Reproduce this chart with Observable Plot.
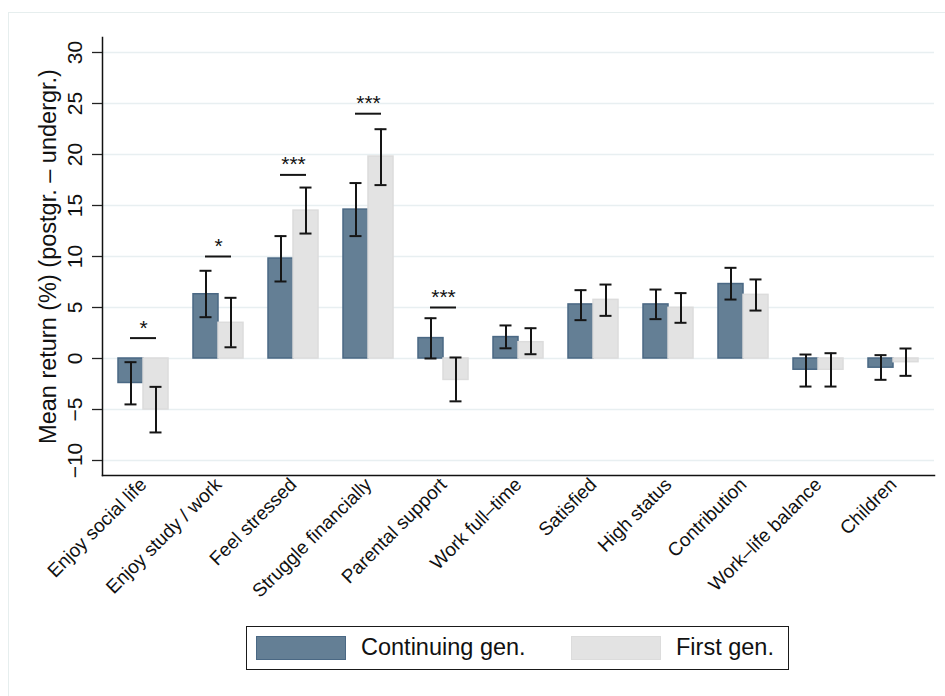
<!DOCTYPE html>
<html>
<head>
<meta charset="utf-8">
<script src="https://cdn.jsdelivr.net/npm/d3@7"></script>
<script src="https://cdn.jsdelivr.net/npm/@observablehq/plot@0.6"></script>
<style>
  html, body { margin: 0; padding: 0; background: #fff; }
  body { width: 945px; height: 696px; position: relative; overflow: hidden; font-family: "Liberation Sans", Arial, Helvetica, sans-serif; }
  #outer { position: absolute; left: 8px; top: 12px; width: 960px; height: 720px; border-left: 1.5px solid #e6eeee; border-top: 1.5px solid #e6eeee; box-sizing: border-box; }
  #chart { position: absolute; left: 0; top: 0; }
  #legend { position: absolute; left: 246px; top: 626px; width: 543px; height: 44px; border: 1.5px solid #1a1a1a; box-sizing: border-box; background: #fff; }
  .sw { position: absolute; top: 9px; width: 90px; height: 24px; box-sizing: border-box; }
  .lt { position: absolute; top: 0; line-height: 41px; font-size: 23.5px; color: #111; white-space: nowrap; }
</style>
</head>
<body>
<div id="outer"></div>
<div id="chart"></div>
<div id="legend"></div>
<script>
// ---- data ----
const categories = ["Enjoy social life", "Enjoy study / work", "Feel stressed", "Struggle financially",
  "Parental support", "Work full–time", "Satisfied", "High status", "Contribution",
  "Work–life balance", "Children"];
const seriesNames = ["Continuing gen.", "First gen."];
const continuing   = [-2.4, 6.3, 9.8, 14.6, 2.0, 2.1, 5.3, 5.3, 7.3, -1.1, -0.9];
const continuingLo = [-4.5, 4.05, 7.55, 12.0, 0.0, 1.0, 3.76, 3.86, 5.78, -2.75, -2.09];
const continuingHi = [-0.36, 8.6, 12.0, 17.2, 3.95, 3.24, 6.7, 6.76, 8.89, 0.39, 0.33];
const firstGen     = [-5.0, 3.5, 14.5, 19.8, -2.1, 1.6, 5.75, 4.97, 6.24, -1.1, -0.36];
const firstGenLo   = [-7.25, 1.1, 12.25, 17.0, -4.2, 0.42, 4.18, 3.5, 4.7, -2.75, -1.7];
const firstGenHi   = [-2.78, 5.95, 16.76, 22.48, 0.1, 2.97, 7.25, 6.41, 7.75, 0.52, 0.98];
const sigCategories = ["Enjoy social life", "Enjoy study / work", "Feel stressed", "Struggle financially", "Parental support"];
const sigLevel      = [2, 10, 18, 24, 5];
const sigStars      = ["*", "*", "***", "***", "***"];
const yTicks = [-10, -5, 0, 5, 10, 15, 20, 25, 30];
const yTitle = "Mean return (%) (postgr. – undergr.)";

const darkFill = "#647f95", darkStroke = "#4a6884";
const lightFill = "#e3e3e3", lightStroke = "#dcdcdc";

const contRows = categories.map((c, i) => ({cat: c, v: continuing[i], lo: continuingLo[i], hi: continuingHi[i]}));
const firstRows = categories.map((c, i) => ({cat: c, v: firstGen[i], lo: firstGenLo[i], hi: firstGenHi[i]}));
const sigRows = sigCategories.map((c, i) => ({cat: c, y: sigLevel[i], s: sigStars[i]}));

const W = 945, H = 615;
const errStroke = "#151515";

const chart = Plot.plot({
  width: W,
  height: H,
  marginLeft: 102,
  marginRight: 11,
  marginTop: 37,
  marginBottom: H - 475,
  style: {fontFamily: "'Liberation Sans', Arial, Helvetica, sans-serif", color: "#111", background: "transparent"},
  x: {domain: categories, type: "band", paddingInner: 0.335, paddingOuter: 0.2},
  y: {domain: [-11.47, 31.47]},
  marks: [
    Plot.gridY(yTicks, {stroke: "#e8eff1", strokeOpacity: 1, strokeWidth: 1.6}),
    Plot.barY(contRows, {x: "cat", y: "v", fill: darkFill, stroke: darkStroke, strokeWidth: 1.5, insetRight: 25}),
    Plot.barY(firstRows, {x: "cat", y: "v", fill: lightFill, stroke: lightStroke, strokeWidth: 1.5, insetLeft: 25}),
    Plot.ruleX(contRows, {x: "cat", y1: "lo", y2: "hi", dx: -12.5, stroke: errStroke, strokeWidth: 2}),
    Plot.ruleX(firstRows, {x: "cat", y1: "lo", y2: "hi", dx: 12.5, stroke: errStroke, strokeWidth: 2}),
    Plot.tickY(contRows, {x: "cat", y: "lo", insetLeft: 6.5, insetRight: 31.5, stroke: errStroke, strokeWidth: 2}),
    Plot.tickY(contRows, {x: "cat", y: "hi", insetLeft: 6.5, insetRight: 31.5, stroke: errStroke, strokeWidth: 2}),
    Plot.tickY(firstRows, {x: "cat", y: "lo", insetLeft: 31.5, insetRight: 6.5, stroke: errStroke, strokeWidth: 2}),
    Plot.tickY(firstRows, {x: "cat", y: "hi", insetLeft: 31.5, insetRight: 6.5, stroke: errStroke, strokeWidth: 2}),
    Plot.tickY(sigRows, {x: "cat", y: "y", insetLeft: 12, insetRight: 12, stroke: errStroke, strokeWidth: 2}),
    Plot.text(sigRows, {x: "cat", y: "y", text: "s", lineAnchor: "bottom", dy: -3.5, fontSize: 21, fill: "#111"}),
    Plot.frame({anchor: "left", stroke: "#111", strokeWidth: 1.5}),
    Plot.frame({anchor: "bottom", stroke: "#111", strokeWidth: 1.5}),
    Plot.axisY(yTicks, {tickSize: 10, tickRotate: -90, tickPadding: 11, fontSize: 21, label: null, stroke: "#222", strokeWidth: 1.3}),
    Plot.axisX({tickSize: 0, tickRotate: -45, tickPadding: 6, fontSize: 19, label: null}),
    Plot.text([yTitle], {frameAnchor: "left", rotate: -90, dx: -47, lineAnchor: "bottom", textAnchor: "middle", fontSize: 23.5, fill: "#111"})
  ]
});
document.getElementById("chart").appendChild(chart);

// legend (HTML, below the plot)
const legend = document.getElementById("legend");
const items = [
  {name: seriesNames[0], fill: darkFill, stroke: darkStroke, sx: 9, tx: 114},
  {name: seriesNames[1], fill: lightFill, stroke: lightStroke, sx: 324, tx: 429}
];
for (const it of items) {
  const sw = document.createElement("div");
  sw.className = "sw";
  sw.style.left = it.sx + "px";
  sw.style.background = it.fill;
  sw.style.border = "1.5px solid " + it.stroke;
  legend.appendChild(sw);
  const t = document.createElement("div");
  t.className = "lt";
  t.style.left = it.tx + "px";
  t.textContent = it.name;
  legend.appendChild(t);
}
</script>
</body>
</html>
